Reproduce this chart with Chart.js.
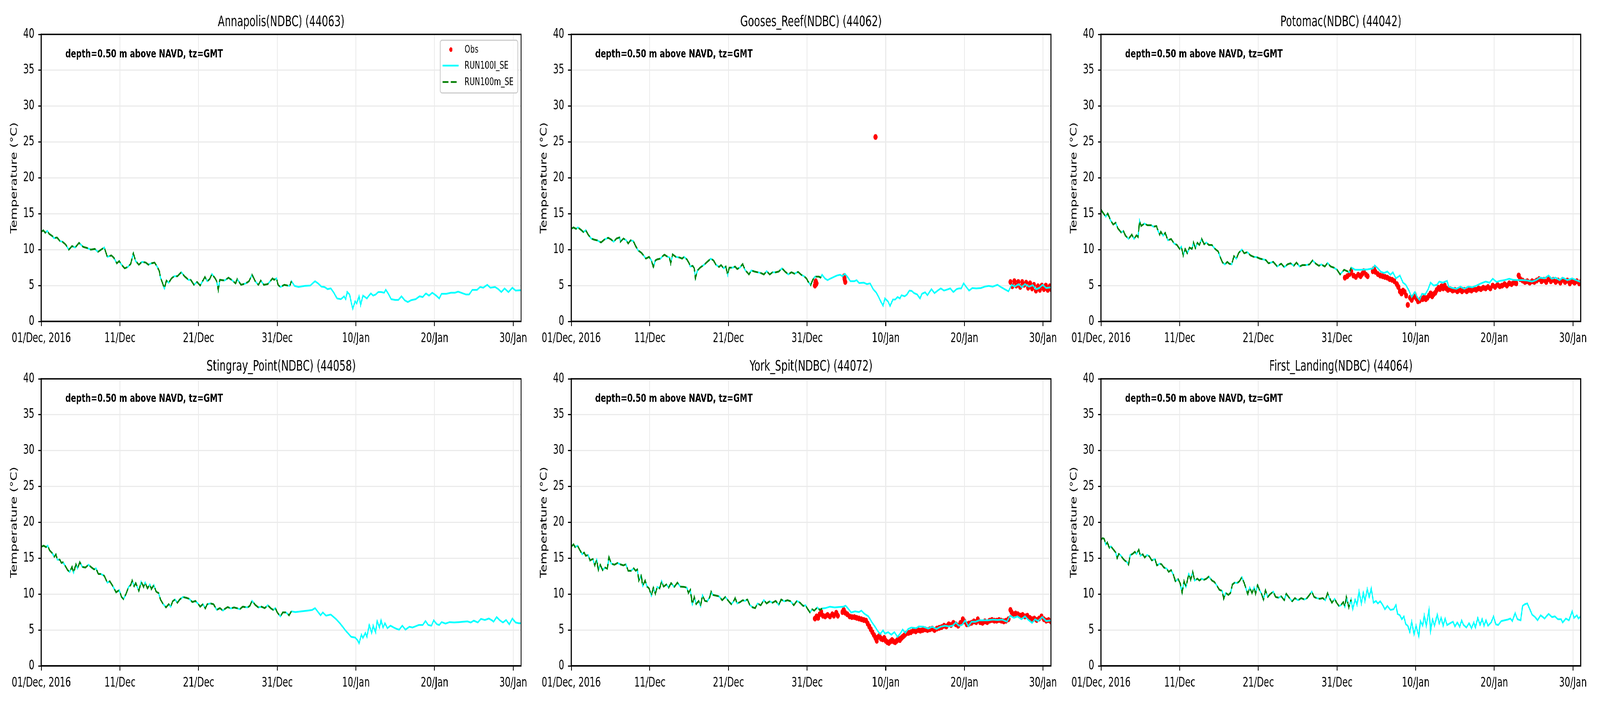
<!DOCTYPE html>
<html>
<head>
<meta charset="utf-8">
<title>Surface temperature, NDBC stations</title>
<script src="https://cdn.jsdelivr.net/npm/chart.js@4.4.1/dist/chart.umd.min.js"></script>
<style>
  html, body { margin: 0; padding: 0; background: #fff; overflow: hidden; }
  #page { position: absolute; left: 0; top: 0; width: 6000px; height: 1800px; transform-origin: 0 0; }
  #page canvas { position: absolute; }
</style>
</head>
<body>
<div id="page"></div>
<script>
// x values are days since 01/Dec/2016 00:00 GMT, temperatures in degC
const tickDays = [0, 10, 20, 30, 40, 50, 60];
const tickLabels = ['01/Dec, 2016', '11/Dec', '21/Dec', '31/Dec', '10/Jan', '20/Jan', '30/Jan'];
const xMaxDay = 61;
const runMEndDay = 31.95; // RUN100m_SE stops here

// Annapolis
const annapolisDays = [
  0,0.25,0.5,0.75,1,1.4,1.6,2,2.35,2.7,
  3.1,3.5,3.9,4.3,4.8,5.3,5.9,6.3,6.8,7.2,
  7.6,8,8.4,8.9,9.2,9.6,9.9,10.2,10.6,11,
  11.35,11.7,12,12.4,12.8,13.3,13.6,14,14.4,14.75,
  15,15.15,15.4,15.65,15.9,16.2,16.55,16.9,17.3,17.8,
  18.2,18.7,19,19.4,19.8,20.2,20.5,20.8,21.1,21.4,
  21.7,22.1,22.3,22.5,22.7,23.3,23.8,24.3,24.7,24.9,
  25.4,26,26.4,26.8,27.2,27.6,27.9,28.3,28.8,29.1,
  29.4,29.6,29.9,30.1,30.4,30.9,31.3,31.6,31.8,32.2,
  32.7,33.5,34.2,34.8,35.2,35.6,36,36.4,36.8,37.2,
  37.6,38.1,38.5,38.7,38.9,39.2,39.4,39.6,39.9,40.1,
  40.4,40.6,40.9,41.4,41.6,41.9,42.2,42.5,42.85,43.2,
  43.6,43.8,44.1,44.5,45,45.4,45.8,46.2,46.6,47,
  47.6,48.1,48.5,48.9,49.3,49.7,50.1,50.6,50.9,51.5,
  52.1,52.6,53,53.5,54,54.4,54.8,55.4,55.8,56.2,
  56.7,57.1,57.7,58.1,58.5,58.9,59.4,59.9,60.3,61
];
const annapolisTemp = [
  12.5,12.7,12.35,12.6,12.2,11.9,11.6,11.7,11.2,11.1,
  10.7,10.0,10.5,10.3,10.95,10.4,10.2,10.0,10.1,9.7,
  10.0,10.3,9.0,9.2,8.9,8.1,8.4,7.9,7.4,7.6,
  8.0,9.5,8.4,7.9,8.3,8.2,7.9,8.1,8.2,7.6,
  7.0,6.1,5.4,4.6,5.7,5.4,6.0,6.3,6.3,6.85,
  6.3,5.8,5.8,5.1,5.5,5.0,5.6,6.2,5.6,5.9,
  6.6,6.0,5.6,4.4,5.8,5.7,6.1,5.7,5.3,5.9,
  5.1,5.3,5.6,6.5,5.6,5.1,5.7,5.1,5.2,5.6,
  6.0,5.8,6.0,5.1,4.8,5.1,5.0,4.95,5.6,4.95,
  4.8,4.95,5.0,5.6,5.3,4.85,4.8,4.5,4.6,4.0,
  3.2,3.1,3.5,3.1,4.1,3.75,2.7,1.8,2.8,2.5,
  3.5,2.3,3.6,3.2,3.5,3.9,3.6,3.75,4.1,4.1,
  4.0,4.4,3.9,3.1,3.0,3.0,3.5,2.95,2.7,2.95,
  3.1,3.5,3.4,3.9,3.6,4.0,3.7,3.2,3.85,3.85,
  4.0,4.0,4.15,3.95,3.75,3.75,4.4,4.4,4.8,4.7,
  5.1,4.7,4.8,4.5,4.1,4.6,4.1,4.7,4.3,4.35
];

// Gooses Reef
const goosesDays = [
  0,0.3,0.6,0.85,1.2,1.55,1.85,2.15,2.55,2.9,
  3.3,3.8,4.2,4.7,5.1,5.4,5.75,6.15,6.25,6.65,
  7,7.25,7.55,7.9,8.2,8.5,8.9,9.2,9.5,9.9,
  10.2,10.45,10.7,10.95,11.35,11.55,11.85,12.2,12.5,12.65,
  12.9,13.3,13.8,14.1,14.35,14.7,15,15.15,15.45,15.65,
  15.8,16.05,16.4,16.9,17.3,17.75,18.1,18.4,18.8,19.05,
  19.4,19.65,19.9,20.1,20.55,20.85,21.1,21.5,21.8,22.1,
  22.6,22.9,23.3,23.7,24.1,24.5,24.85,25.25,25.6,26,
  26.4,26.8,27.2,27.6,28,28.4,28.85,29.25,29.6,29.95,
  30.1,30.45,30.7,31,31.5,31.7,31.9,32.3,32.6,33,
  33.4,33.8,34.2,34.5,34.8,35.2,35.5,36,36.3,36.6,
  37.2,37.6,38,38.4,38.8,39.1,39.4,39.65,39.9,40.3,
  40.55,40.9,41.2,41.5,41.8,42,42.4,42.7,43,43.3,
  43.6,44,44.35,44.6,45,45.3,45.8,46.2,46.6,47,
  47.4,47.7,48.2,48.6,49,49.3,49.6,49.9,50.2,50.6,
  51,51.5,52.1,52.6,53.1,53.6,54.2,54.7,55.1,55.6,
  56,56.4,56.9,57.3,57.7,58.2,58.7,59.1,59.5,59.95,
  60.4,61
];
const goosesTemp = [
  12.9,13.1,12.9,13.1,12.8,12.45,12.7,12.1,11.55,11.4,
  11.3,11.0,11.4,11.65,11.4,11.1,11.55,11.7,11.1,11.55,
  11.3,10.85,11.3,11.2,10.5,9.9,9.6,9.2,8.75,9.0,
  8.5,7.6,8.5,8.65,8.75,9.0,9.3,9.05,8.9,8.1,
  9.35,9.0,8.9,8.75,9.0,8.65,8.1,7.65,7.75,7.4,
  6.0,7.1,7.5,7.9,8.3,8.75,8.5,7.9,7.6,7.85,
  7.4,7.65,6.5,7.5,7.5,7.65,7.3,7.55,8.0,7.2,
  6.55,7.1,6.95,6.85,6.75,6.55,7.0,6.55,6.85,6.85,
  6.95,7.4,6.95,6.55,6.85,6.65,6.9,6.5,6.3,5.95,
  5.6,5.05,5.75,6.25,6.25,6.1,6.5,5.95,5.75,6.0,
  6.2,6.4,6.5,6.3,6.65,6.1,5.6,5.6,5.75,5.35,
  5.4,5.2,5.3,4.5,4.0,3.4,2.7,2.2,3.2,2.75,
  2.15,3.05,3.05,3.4,3.2,3.65,3.5,3.75,4.3,4.25,
  3.95,3.75,3.2,3.85,4.05,3.65,4.5,3.95,4.3,4.6,
  4.3,4.4,4.6,4.1,4.5,4.6,4.6,5.3,4.85,4.3,
  4.65,4.6,4.65,4.85,4.95,4.85,5.1,4.75,4.5,4.2,
  5.1,4.85,5.2,4.75,5.2,4.85,5.05,4.5,4.65,5.1,
  4.65,4.75
];
const goosesObsDays = [
  31.0,31.05,31.1,31.15,31.2,34.7,34.75,34.8,34.85,38.7,
  55.85,56.1,56.35,56.6,56.85,57.1,57.35,57.6,57.85,58.1,
  58.35,58.6,58.85,59.1,59.35,59.6,59.85,60.1,60.35,60.6,
  60.85,61.0
];
const goosesObsTemp = [
  5.0,5.4,5.6,5.2,5.3,6.3,6.0,5.7,5.5,25.7,
  5.5,4.9,5.6,5.0,5.5,4.8,5.5,5.1,5.4,4.7,
  5.3,4.6,5.1,4.3,4.9,4.4,5.0,4.5,5.0,4.4,
  4.9,4.5
];

// Potomac
const potomacDays = [
  0,0.2,0.6,0.85,1.2,1.55,1.85,2.15,2.55,2.85,
  3.1,3.5,3.9,4.2,4.5,4.7,4.9,5.1,5.5,5.9,
  6.4,6.65,7.05,7.25,7.45,7.6,7.9,8.15,8.5,8.9,
  9.3,9.65,10,10.2,10.45,10.7,10.95,11.25,11.55,11.75,
  12,12.25,12.5,12.8,13.1,13.4,13.7,14.1,14.5,14.9,
  15.15,15.45,15.75,16.05,16.3,16.6,16.9,17.2,17.5,17.9,
  18.2,18.6,19,19.4,19.8,20.2,20.6,20.95,21.3,21.9,
  22.4,22.9,23.3,23.7,24.1,24.5,24.85,25.25,25.6,26.1,
  26.5,26.9,27.3,27.7,28,28.45,28.8,29.2,29.6,30,
  30.4,30.9,31.3,31.6,31.8,32.3,33.1,33.9,34.6,34.8,
  35.2,35.6,36,36.4,36.8,37.1,37.5,38,38.4,38.75,
  39.1,39.5,39.9,40.2,40.5,40.8,41.2,41.6,41.9,42.3,
  42.7,43,43.45,44,44.2,44.7,45.2,45.7,46.2,46.7,
  47.2,47.75,48.3,48.9,49.4,49.8,50.3,50.7,51.3,51.9,
  52.4,53,53.6,54.2,54.8,55.3,55.8,56.4,56.9,57.3,
  57.8,58.3,58.7,59.3,59.9,60.4,61
];
const potomacTemp = [
  15.6,15.2,14.6,15.05,14.1,13.5,13.75,12.95,12.4,12.6,
  11.95,11.5,12.1,11.5,12.0,11.75,14.0,13.3,13.65,13.4,
  13.4,13.2,13.3,12.6,12.1,12.5,11.95,12.35,11.3,11.5,
  10.85,10.65,10.1,10.4,9.2,10.1,9.5,10.3,10.1,11.0,
  10.2,10.95,10.65,11.5,10.75,11.0,10.65,10.65,10.1,9.75,
  8.95,8.2,7.95,8.3,8.05,7.95,9.1,8.75,9.55,10.0,
  9.5,9.65,9.2,9.0,8.95,8.75,8.65,8.55,8.1,8.3,
  7.65,8.05,7.55,7.95,8.1,7.75,8.2,7.65,7.85,7.85,
  7.95,8.5,8.05,7.75,7.95,7.65,8.15,7.65,7.5,7.2,
  6.55,7.2,7.0,6.85,7.5,7.2,7.2,7.25,7.4,7.8,
  7.4,6.9,6.75,6.95,6.5,6.85,6.0,6.4,5.4,5.1,
  4.4,3.4,4.1,3.4,3.0,3.85,3.75,4.5,5.4,5.0,
  5.1,5.55,5.4,5.65,4.85,4.65,4.55,4.85,4.55,4.85,
  4.75,5.0,5.3,5.55,5.4,5.95,5.5,5.65,5.75,5.95,
  5.8,5.75,5.75,5.7,5.55,5.75,6.1,6.0,6.4,5.95,
  6.1,5.75,6.1,5.75,6.0,5.75,5.5
];
const potomacObsDays = [
  31.0,31.3,31.6,31.8,32.1,32.4,32.7,33.0,33.2,33.4,
  33.7,33.9,34.55,34.7,34.9,35.2,35.5,35.8,36.1,36.4,
  36.7,37.0,37.3,37.6,37.8,38.0,38.2,38.4,38.6,38.8,
  39.0,39.3,39.5,39.7,39.9,40.1,40.3,40.5,40.7,40.9,
  41.1,41.3,41.5,41.7,41.9,42.1,42.3,42.5,42.7,42.9,
  43.1,43.3,43.5,43.7,43.9,44.1,44.4,44.7,45.0,45.3,
  45.6,45.9,46.2,46.5,46.8,47.1,47.4,47.7,48.0,48.3,
  48.6,48.9,49.2,49.5,49.8,50.1,50.4,50.7,51.0,51.3,
  51.6,51.9,52.2,52.5,52.8,53.1,53.3,53.6,53.9,54.2,
  54.5,54.8,55.1,55.4,55.7,56.0,56.3,56.6,56.9,57.2,
  57.5,57.8,58.1,58.4,58.7,59.0,59.3,59.6,59.9,60.2,
  60.5,60.8,61.0
];
const potomacObsTemp = [
  6.1,6.3,6.6,7.0,6.4,6.2,6.5,6.3,6.6,7.0,
  6.5,6.3,7.0,7.3,6.9,6.6,6.4,6.3,6.2,6.1,
  5.9,5.8,5.6,5.2,4.8,4.2,3.9,4.3,4.1,3.6,
  2.3,3.3,3.0,3.4,3.7,3.2,2.8,2.9,3.2,3.1,
  3.4,3.1,3.3,3.6,3.9,3.5,3.8,4.0,4.4,4.7,
  4.5,4.9,4.6,5.0,4.6,4.4,4.5,4.3,4.4,4.2,
  4.4,4.2,4.4,4.2,4.4,4.3,4.5,4.4,4.6,4.5,
  4.7,4.6,4.8,4.6,5.0,4.8,5.1,4.9,5.0,5.2,
  5.0,5.3,5.2,5.4,5.3,6.4,5.9,5.7,5.5,5.6,
  5.4,5.6,5.5,5.7,5.9,5.6,5.8,5.5,5.9,5.6,
  5.8,5.5,5.7,5.4,5.8,5.5,5.7,5.3,5.6,5.4,
  5.6,5.3,5.5
];

// Stingray Point
const stingrayDays = [
  0,0.3,0.6,0.8,1.05,1.4,1.65,1.85,2.05,2.35,
  2.55,2.75,3,3.35,3.6,3.9,4.1,4.4,4.6,4.9,
  5.2,5.6,6,6.4,6.7,6.95,7.25,7.6,8,8.4,
  8.7,9.1,9.5,9.9,10.2,10.45,10.75,11.1,11.35,11.55,
  11.8,12,12.4,12.7,13,13.2,13.5,13.8,14,14.3,
  14.6,14.9,15.15,15.45,15.85,16.2,16.45,16.7,17,17.3,
  17.6,18,18.4,18.8,19.2,19.6,19.9,20.2,20.55,20.85,
  21.1,21.5,21.9,22.3,22.7,23.1,23.4,23.7,24.1,24.5,
  24.85,25.25,25.6,26.2,26.5,26.8,27.2,27.6,28,28.4,
  28.8,29.2,29.5,29.75,30,30.4,30.7,31.1,31.5,31.8,
  32.3,33.1,33.85,34.45,34.8,35.2,35.5,35.8,36.2,36.8,
  37.4,38,38.6,38.95,39.4,39.9,40.2,40.4,40.7,40.9,
  41.2,41.4,41.7,42,42.2,42.5,42.7,43,43.2,43.45,
  43.7,44,44.4,44.8,45.2,45.5,45.9,46.3,46.8,47.2,
  47.55,48,48.5,48.85,49.2,49.6,49.9,50.3,50.6,50.9,
  51.4,51.9,52.5,53.1,53.6,54.2,54.6,55,55.5,55.9,
  56.4,56.9,57.3,57.5,57.9,58.3,58.7,59.1,59.5,59.9,
  60.3,60.7,61
];
const stingrayTemp = [
  16.6,16.75,16.55,16.75,16.1,15.7,15.2,15.55,14.8,14.8,
  14.35,14.45,14.0,13.35,13.1,13.8,13.0,14.15,13.6,14.45,
  13.8,13.7,14.1,13.7,13.45,13.6,12.8,12.8,12.55,11.6,
  11.8,11.1,10.25,10.55,9.6,9.3,10.0,11.0,11.25,11.9,
  11.1,11.55,10.45,11.7,11.0,11.6,10.8,11.35,10.7,11.25,
  10.35,10.15,9.25,8.7,8.15,8.6,8.25,9.0,9.25,8.8,
  9.25,9.6,9.5,9.35,8.9,9.05,8.7,8.25,8.6,8.0,
  8.6,8.7,8.6,7.8,8.05,7.7,8.0,8.2,8.0,8.15,
  8.05,7.9,8.25,8.15,8.35,9.05,8.5,8.15,8.25,8.05,
  8.45,8.0,7.8,8.05,7.45,6.9,7.45,7.45,7.05,7.6,
  7.5,7.6,7.7,7.8,8.05,7.5,7.05,7.45,7.0,7.15,
  6.6,5.9,5.05,4.6,4.05,3.95,3.6,3.15,4.35,3.9,
  4.6,4.05,5.7,4.6,5.6,4.7,6.25,5.35,6.35,5.35,
  5.95,5.25,5.6,5.35,5.15,5.05,5.6,5.05,5.45,5.35,
  5.5,5.7,5.7,6.25,5.7,5.6,6.35,5.8,5.7,6.1,
  5.9,6.1,6.05,6.1,6.15,6.2,6.05,6.3,6.05,6.55,
  6.4,6.6,6.35,6.15,6.8,6.35,6.05,6.4,5.8,6.6,
  6.05,5.95,5.95
];

// York Spit
const yorkDays = [
  0,0.3,0.5,0.8,1.05,1.4,1.65,1.85,2.15,2.4,
  2.75,3,3.25,3.45,3.7,4,4.3,4.6,4.8,5.1,
  5.5,5.9,6.25,6.65,6.95,7.25,7.6,7.95,8.2,8.4,
  8.6,8.9,9.1,9.4,9.65,9.9,10.2,10.45,10.7,10.95,
  11.25,11.5,11.75,12.1,12.4,12.7,13.1,13.5,13.9,14.4,
  14.7,14.9,15.15,15.4,15.65,15.9,16.2,16.45,16.7,17,
  17.3,17.6,17.8,18,18.4,18.8,19.2,19.6,20,20.35,
  20.65,20.85,21.1,21.5,21.8,22.1,22.4,22.7,23.1,23.4,
  23.7,24.1,24.5,24.85,25.25,25.6,26,26.4,26.7,27.1,
  27.5,27.9,28.3,28.7,29.1,29.5,29.8,30,30.35,30.65,
  30.9,31.3,31.6,31.9,32.3,32.9,33.5,34.05,34.6,34.9,
  35.2,35.6,36.1,36.6,36.9,37.3,37.8,38.2,38.55,38.95,
  39.3,39.65,39.9,40.3,40.7,41.1,41.5,41.9,42.15,42.5,
  42.85,43.25,43.85,44.2,44.8,45.4,45.9,46.45,46.95,47.55,
  48,48.5,48.9,49.3,49.7,50.1,50.5,50.9,51.4,51.9,
  52.45,53,53.6,54.2,54.8,55.4,55.8,56.3,56.75,57.25,
  57.7,58.1,58.6,59,59.35,59.9,60.4,61
];
const yorkTemp = [
  16.6,16.95,16.55,16.75,16.25,15.55,15.8,15.35,15.45,14.7,
  14.9,14.0,14.8,13.35,14.1,13.35,13.7,13.55,15.15,14.25,
  14.1,14.35,14.15,14.0,14.15,13.25,13.25,13.6,13.25,13.45,
  11.9,12.6,11.15,11.9,11.05,10.8,9.8,10.9,10.05,11.0,
  10.8,11.8,11.05,11.35,10.9,11.55,11.0,11.6,11.05,11.0,
  10.9,10.15,10.6,8.6,9.6,8.6,9.05,8.35,9.8,9.05,
  9.0,9.55,10.35,9.9,9.8,9.7,9.15,9.6,9.05,8.6,
  9.0,9.45,8.7,8.9,9.15,9.05,9.25,8.5,8.15,8.05,
  8.7,8.45,9.15,8.7,9.0,8.8,9.05,8.5,9.25,9.0,
  9.15,9.0,8.45,9.05,8.8,8.35,8.45,8.05,7.45,7.9,
  7.7,8.15,7.8,8.0,8.05,8.25,8.15,8.2,8.25,8.4,
  8.0,7.45,7.6,7.5,7.7,7.25,6.9,6.15,5.6,4.9,
  4.45,4.95,4.5,4.7,4.35,4.7,4.05,4.6,5.05,4.6,
  5.15,5.35,5.25,5.5,5.45,5.2,5.45,5.15,5.45,5.6,
  5.5,5.6,6.05,5.6,5.7,6.35,5.5,6.15,6.15,6.35,
  6.35,6.35,6.45,6.4,6.45,6.15,7.0,6.7,6.9,6.5,
  6.9,6.45,6.0,6.5,6.25,6.8,6.25,6.35
];
const yorkObsDays = [
  31.0,31.2,31.4,31.6,31.8,32.0,32.3,32.6,32.9,33.2,
  33.4,33.7,33.9,34.5,34.65,34.85,35.1,35.4,35.7,36.0,
  36.3,36.6,36.9,37.2,37.5,37.7,37.9,38.1,38.3,38.5,
  38.7,38.85,39.0,39.2,39.4,39.6,39.8,40.0,40.2,40.4,
  40.6,40.8,41.0,41.2,41.4,41.6,41.8,42.0,42.2,42.4,
  42.6,42.9,43.2,43.5,43.8,44.1,44.4,44.7,45.0,45.3,
  45.6,45.9,46.2,46.5,46.8,47.1,47.4,47.7,48.0,48.3,
  48.6,48.9,49.2,49.5,49.8,50.0,50.3,50.6,50.9,51.2,
  51.5,51.7,52.0,52.3,52.6,52.9,53.2,53.5,53.8,54.1,
  54.4,54.7,55.0,55.3,55.6,55.85,56.0,56.2,56.5,56.8,
  57.1,57.4,57.7,58.0,58.3,58.6,58.9,59.2,59.5,59.8,
  60.1,60.4,60.7,61.0
];
const yorkObsTemp = [
  6.6,6.9,6.7,7.2,7.5,7.0,6.9,7.1,6.9,7.2,
  7.0,7.4,7.0,7.5,7.8,7.4,7.2,6.9,6.8,6.8,
  6.7,6.6,6.5,6.4,6.3,5.9,5.5,5.1,4.7,4.3,
  3.9,3.5,4.0,4.2,3.8,3.7,3.9,3.5,3.3,3.2,
  3.4,3.6,3.4,3.3,3.5,3.8,3.6,3.9,4.1,4.3,
  4.5,4.6,4.7,4.9,4.8,5.0,4.9,5.0,5.1,5.0,
  5.1,5.2,5.0,5.2,5.3,5.4,5.6,5.5,5.8,5.7,
  6.0,5.8,5.6,6.0,6.5,6.2,5.8,5.9,6.0,6.2,
  6.1,6.5,6.1,6.0,6.2,6.1,6.3,6.4,6.3,6.3,
  6.4,6.3,6.2,6.3,6.5,7.8,7.5,7.2,7.3,7.2,
  7.0,7.1,6.9,7.0,6.7,6.5,6.6,6.4,6.6,6.9,
  6.5,6.3,6.4,6.2
];

// First Landing
const landingDays = [
  0,0.2,0.4,0.6,0.8,1.05,1.25,1.55,1.85,2.05,
  2.25,2.45,2.75,3,3.3,3.5,3.7,4,4.3,4.5,
  4.8,5,5.3,5.55,5.85,6.15,6.45,6.85,7.1,7.45,
  7.7,8,8.35,8.6,8.9,9.2,9.45,9.8,10.05,10.3,
  10.55,10.8,11.15,11.4,11.65,11.9,12.25,12.5,12.8,13.1,
  13.4,13.7,14.1,14.4,14.75,15.05,15.4,15.6,15.85,16.2,
  16.45,16.7,17,17.3,17.6,17.9,18.2,18.4,18.65,18.9,
  19.2,19.45,19.65,19.9,20.15,20.4,20.65,20.9,21.2,21.5,
  21.9,22.2,22.6,22.9,23.3,23.55,23.85,24.3,24.65,25.05,
  25.45,25.85,26.2,26.5,26.8,27.1,27.4,27.8,28.2,28.5,
  28.8,29.05,29.35,29.7,29.95,30.25,30.5,30.8,31,31.2,
  31.5,31.8,32,32.3,32.55,32.8,33.1,33.35,33.55,33.85,
  34.1,34.35,34.65,34.95,35.2,35.5,35.8,36.1,36.4,36.8,
  37.2,37.5,37.7,38,38.25,38.5,38.75,39,39.25,39.5,
  39.8,40.05,40.4,40.6,40.9,41.1,41.35,41.7,41.9,42.15,
  42.4,42.75,43,43.25,43.5,43.75,44,44.4,44.75,45,
  45.3,45.6,45.85,46.1,46.45,46.8,47.1,47.4,47.6,47.9,
  48.2,48.45,48.7,48.95,49.2,49.6,49.9,50.2,50.5,50.9,
  51.3,51.7,52.05,52.3,52.65,52.95,53.35,53.6,53.9,54.2,
  54.5,54.8,55.2,55.5,55.9,56.4,56.9,57.35,57.7,58.1,
  58.5,58.7,59.1,59.5,59.9,60.15,60.5,60.7,61
];
const landingTemp = [
  17.6,17.8,17.7,16.9,17.2,16.45,16.65,16.25,15.8,15.0,
  15.6,15.45,15.0,14.7,14.45,14.1,15.45,15.6,15.9,15.6,
  16.2,15.35,15.55,15.1,15.45,15.25,14.7,14.9,14.0,14.25,
  14.15,13.7,13.55,13.1,13.35,12.7,11.8,12.1,11.55,10.2,
  11.8,11.05,12.8,12.0,13.1,11.9,12.15,11.9,12.15,12.0,
  12.15,12.45,11.9,11.7,11.15,10.6,10.45,9.35,10.15,9.9,
  10.15,11.35,11.6,11.55,11.8,12.35,11.55,10.9,10.0,10.9,
  10.15,10.9,10.05,11.25,10.55,10.05,9.25,10.55,9.6,10.0,
  10.35,9.6,9.5,9.7,9.15,10.05,9.6,9.0,9.45,9.15,
  9.45,9.25,9.45,9.9,10.35,9.6,9.45,9.35,9.45,9.15,
  10.15,9.45,8.8,9.35,8.8,8.35,8.45,8.9,8.25,9.6,
  8.15,9.25,7.95,9.25,8.5,10.35,8.7,10.2,9.05,10.7,
  9.6,10.8,8.8,9.05,8.7,9.0,8.5,7.9,8.35,7.8,
  7.9,8.5,7.25,7.05,6.5,6.9,5.8,5.6,4.7,6.15,
  4.45,5.6,4.15,6.25,5.6,7.0,5.6,7.8,4.9,6.5,
  5.6,7.15,5.9,6.7,5.6,6.6,5.7,5.95,6.15,5.5,
  6.05,5.45,6.35,5.7,5.35,5.95,5.25,6.05,5.35,6.7,
  5.7,6.55,5.6,6.35,5.6,6.05,6.9,5.8,5.7,6.25,
  6.35,6.45,6.6,6.25,7.35,6.5,6.35,8.35,8.6,8.7,
  7.95,7.15,6.8,6.35,7.05,6.6,7.25,6.8,6.9,6.5,
  6.5,6.05,6.6,6.35,7.6,6.7,7.05,6.6,6.9
];

const stations = [
  { title: 'Annapolis(NDBC) (44063)', days: annapolisDays, temp: annapolisTemp, obsDays: [], obsTemp: [], legend: true },
  { title: 'Gooses_Reef(NDBC) (44062)', days: goosesDays, temp: goosesTemp, obsDays: goosesObsDays, obsTemp: goosesObsTemp },
  { title: 'Potomac(NDBC) (44042)', days: potomacDays, temp: potomacTemp, obsDays: potomacObsDays, obsTemp: potomacObsTemp },
  { title: 'Stingray_Point(NDBC) (44058)', days: stingrayDays, temp: stingrayTemp, obsDays: [], obsTemp: [] },
  { title: 'York_Spit(NDBC) (44072)', days: yorkDays, temp: yorkTemp, obsDays: yorkObsDays, obsTemp: yorkObsTemp },
  { title: 'First_Landing(NDBC) (44064)', days: landingDays, temp: landingTemp, obsDays: [], obsTemp: [] }
];

// page layout in a 6000 x 1800 frame: axes boxes are 1800 x 735 px
const axisLeft = [155, 2142, 4129];
const axisTop = [88, 970];
const yAxisWidth = 155;
const xAxisHeight = 77;
const canvasW = 1990;
const canvasH = 900;
const FONT = 'DejaVu Sans';

// the window can come out narrower than 6000, so squeeze the frame to fit it
const page = document.getElementById('page');
const sx = window.innerWidth < 6000 ? window.innerWidth / 6000 : 1;
const sy = window.innerHeight < 1800 ? window.innerHeight / 1800 : 1;
if (sx !== 1 || sy !== 1) page.style.transform = 'scale(' + sx + ',' + sy + ')';

function pairs(xs, ys) {
  return xs.map((x, i) => ({ x: x, y: ys[i] }));
}

function roundRect(ctx, x, y, w, h, r) {
  ctx.beginPath();
  ctx.moveTo(x + r, y);
  ctx.lineTo(x + w - r, y);
  ctx.arcTo(x + w, y, x + w, y + r, r);
  ctx.lineTo(x + w, y + h - r);
  ctx.arcTo(x + w, y + h, x + w - r, y + h, r);
  ctx.lineTo(x + r, y + h);
  ctx.arcTo(x, y + h, x, y + h - r, r);
  ctx.lineTo(x, y + r);
  ctx.arcTo(x, y, x + r, y, r);
  ctx.closePath();
}

// title, note, full box frame and the legend of the first panel
const panelDecor = {
  id: 'panelDecor',
  afterDraw(chart, args, opts) {
    const ctx = chart.ctx;
    const a = chart.chartArea;
    ctx.save();
    ctx.strokeStyle = '#000';
    ctx.lineWidth = 3.5;
    ctx.strokeRect(a.left, a.top, a.right - a.left, a.bottom - a.top);

    ctx.fillStyle = '#000';
    ctx.font = '37px "' + FONT + '"';
    ctx.textAlign = 'center';
    ctx.textBaseline = 'alphabetic';
    ctx.fillText(opts.title, (a.left + a.right) / 2, a.top - 21);

    ctx.font = 'bold 29px "' + FONT + '"';
    ctx.textAlign = 'left';
    ctx.fillText('depth=0.50 m above NAVD, tz=GMT', a.left + 0.05 * (a.right - a.left), a.top + 59);

    if (opts.legend) {
      const bw = 291, bh = 135;
      const bx = a.right - 12 - bw, by = a.top + 15;
      roundRect(ctx, bx, by, bw, bh, 7);
      ctx.fillStyle = 'rgba(255,255,255,0.8)';
      ctx.fill();
      ctx.strokeStyle = '#cccccc';
      ctx.lineWidth = 3;
      ctx.stroke();

      const ds = chart.data.datasets;
      const rows = [24, 65, 107];
      ctx.font = '27px "' + FONT + '"';
      ctx.textBaseline = 'middle';
      ds.forEach((d, i) => {
        const y = by + rows[i];
        if (d.showLine === false) {
          ctx.beginPath();
          ctx.arc(bx + 40, y, 6, 0, Math.PI * 2);
          ctx.fillStyle = d.pointBackgroundColor;
          ctx.fill();
        } else {
          ctx.beginPath();
          ctx.setLineDash(d.borderDash || []);
          ctx.strokeStyle = d.borderColor;
          ctx.lineWidth = d.borderWidth;
          ctx.moveTo(bx + 9, y);
          ctx.lineTo(bx + 69, y);
          ctx.stroke();
          ctx.setLineDash([]);
        }
        ctx.fillStyle = '#000';
        ctx.fillText(d.label, bx + 91, y + 1);
      });
    }
    ctx.restore();
  }
};

stations.forEach((st, k) => {
  const col = k % 3, row = Math.floor(k / 3);
  const canvas = document.createElement('canvas');
  canvas.width = canvasW;
  canvas.height = canvasH;
  canvas.style.left = (axisLeft[col] - yAxisWidth) + 'px';
  canvas.style.top = (axisTop[row] - 88) + 'px';
  canvas.style.width = canvasW + 'px';
  canvas.style.height = canvasH + 'px';
  page.appendChild(canvas);

  const model = pairs(st.days, st.temp);

  new Chart(canvas.getContext('2d'), {
    type: 'line',
    data: {
      datasets: [
        {
          label: 'Obs',
          data: pairs(st.obsDays, st.obsTemp),
          showLine: false,
          pointRadius: 7.5,
          pointBackgroundColor: '#ff0000',
          pointBorderWidth: 0,
          order: 3
        },
        {
          label: 'RUN100l_SE',
          data: model,
          borderColor: '#00ffff',
          borderWidth: 4.5,
          pointRadius: 0,
          tension: 0,
          order: 2
        },
        {
          label: 'RUN100m_SE',
          data: model.filter(p => p.x <= runMEndDay),
          borderColor: '#008000',
          borderWidth: 4.5,
          borderDash: [22, 9],
          pointRadius: 0,
          tension: 0,
          order: 1
        }
      ]
    },
    options: {
      responsive: false,
      animation: false,
      devicePixelRatio: 1,
      layout: { padding: { top: 88, right: 35, left: 0, bottom: 0 } },
      plugins: {
        legend: { display: false },
        tooltip: { enabled: false },
        panelDecor: { title: st.title, legend: !!st.legend }
      },
      scales: {
        x: {
          type: 'linear',
          min: 0,
          max: xMaxDay,
          afterBuildTicks: s => { s.ticks = tickDays.map(v => ({ value: v })); },
          afterFit: s => { s.height = xAxisHeight; },
          ticks: {
            autoSkip: false,
            maxRotation: 0,
            padding: 13,
            color: '#000',
            font: { family: FONT, size: 33 },
            callback: (v, i) => tickLabels[i]
          },
          grid: { color: '#ebebeb', lineWidth: 3, tickLength: 12, tickColor: '#000', tickWidth: 3 },
          border: { color: '#000', width: 3.5 }
        },
        y: {
          min: 0,
          max: 40,
          afterFit: s => { s.width = yAxisWidth; },
          ticks: {
            stepSize: 5,
            padding: 14,
            color: '#000',
            font: { family: FONT, size: 33 }
          },
          title: {
            display: true,
            text: 'Temperature (°C)',
            color: '#000',
            font: { family: FONT, size: 33 },
            padding: { top: 35, bottom: 0 }
          },
          grid: { color: '#ebebeb', lineWidth: 3, tickLength: 12, tickColor: '#000', tickWidth: 3 },
          border: { color: '#000', width: 3.5 }
        }
      }
    },
    plugins: [panelDecor]
  });
});
</script>
</body>
</html>
